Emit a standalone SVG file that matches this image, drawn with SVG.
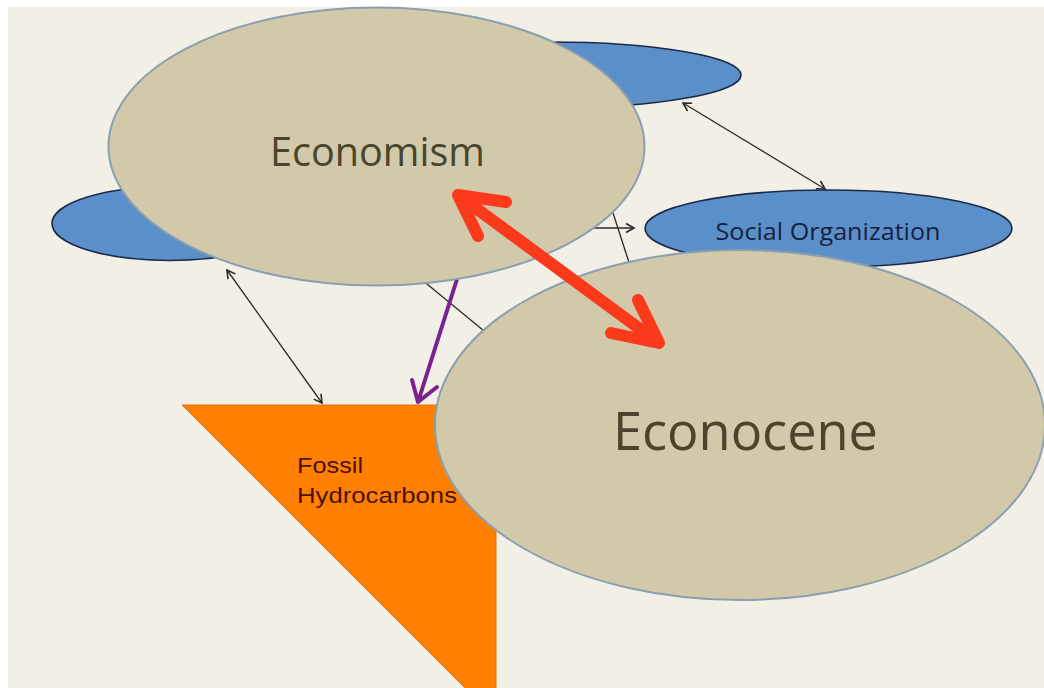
<svg xmlns="http://www.w3.org/2000/svg" width="1044" height="688" viewBox="0 0 1044 688">
<defs>
<style>
.blue{fill:#5b8fca;stroke:#1c2a48;stroke-width:1.6}
.beige{fill:#d1c9aa;stroke:#8c9fae;stroke-width:2}
.thin{stroke:#2a2a2a;stroke-width:1.3;fill:none}
.big{font-family:"Open Sans","Noto Sans",sans-serif;fill:#4a452c}
.so{font-family:"Open Sans","Noto Sans",sans-serif;fill:#17213f;font-size:23px}
.fh{font-family:"Liberation Sans",Arial,sans-serif;fill:#4a1208;font-size:22px}
</style>
<marker id="ah" viewBox="-10 -6 12 12" refX="0" refY="0" markerWidth="12" markerHeight="12" markerUnits="userSpaceOnUse" orient="auto-start-reverse">
<path d="M-8,-4.5 L0,0 L-8,4.5" fill="none" stroke="#2a2a2a" stroke-width="1.6"/>
</marker>
</defs>
<rect x="0" y="0" width="1044" height="688" fill="#ffffff"/>
<rect x="8" y="7" width="1036" height="681" fill="#f2efe7"/>

<g id="blue-top"><ellipse class="blue" cx="550" cy="75" rx="191" ry="33"/></g>
<g id="blue-left"><ellipse class="blue" cx="170" cy="223.5" rx="118" ry="37"/></g>
<g id="social-organization">
<ellipse class="blue" cx="828.5" cy="228.5" rx="183.5" ry="38.5"/>
<text class="so" x="828" y="240" text-anchor="middle" textLength="225" lengthAdjust="spacingAndGlyphs">Social Organization</text>
</g>

<g id="connectors">
<line class="thin" x1="683" y1="103" x2="825" y2="189" marker-start="url(#ah)" marker-end="url(#ah)"/>
<line class="thin" x1="585" y1="228" x2="634" y2="228" marker-end="url(#ah)"/>
<line class="thin" x1="604" y1="185" x2="634" y2="278"/>
<line class="thin" x1="227" y1="270" x2="322" y2="403" marker-start="url(#ah)" marker-end="url(#ah)"/>
<line class="thin" x1="410" y1="270" x2="495" y2="340"/>
<path d="M458,276 L418,402 M412,380 L418,402 L437,387" fill="none" stroke="#7a238e" stroke-width="4" stroke-linejoin="round" stroke-linecap="round"/>
</g>

<g id="economism">
<ellipse class="beige" cx="376.5" cy="146.5" rx="268" ry="139"/>
<text class="big" x="377.5" y="166" font-size="40" text-anchor="middle" textLength="215" lengthAdjust="spacingAndGlyphs">Economism</text>
</g>

<g id="fossil-hydrocarbons">
<polygon points="182,405 496,405 496,719" fill="#ff8000" stroke="#d9731a" stroke-width="1"/>
<text class="fh" x="297" y="473" textLength="66" lengthAdjust="spacingAndGlyphs">Fossil</text>
<text class="fh" x="297" y="503" textLength="160" lengthAdjust="spacingAndGlyphs">Hydrocarbons</text>
</g>

<g id="econocene">
<ellipse class="beige" cx="740" cy="425" rx="305" ry="175"/>
<text class="big" x="745.5" y="450" font-size="53" text-anchor="middle" textLength="265" lengthAdjust="spacingAndGlyphs">Econocene</text>
</g>

<g id="connectors-top">
<path d="M458,195 L659,343 M506,202 L458,195 L478,236 M611,333 L659,343 L638,300" fill="none" stroke="#fb3a1c" stroke-width="12" stroke-linecap="round" stroke-linejoin="round"/>
</g>
</svg>
